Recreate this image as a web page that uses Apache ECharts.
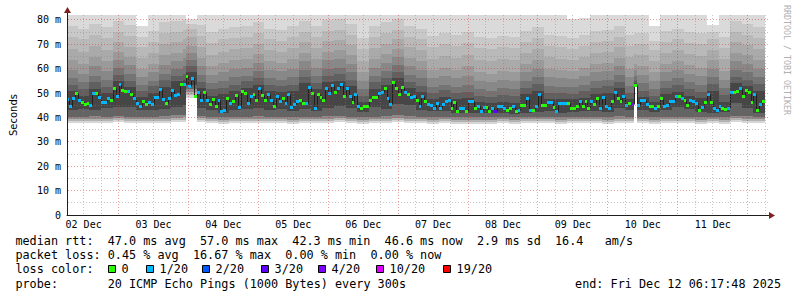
<!DOCTYPE html>
<html><head><meta charset="utf-8">
<script src="https://cdn.jsdelivr.net/npm/echarts@6/dist/echarts.min.js"></script>
<style>html,body{margin:0;padding:0;background:#fff}#c{width:797px;height:297px}</style>
</head><body><div id="c"></div>
<script>
// ---------------- data ----------------
// x unit: hours since Dec 02 00:00
const viewStart = 6.2967;   // Dec 02 06:17:48
const viewEnd = 246.2967;   // Dec 12 06:17:48
const startHour = 6;        // first 1-hour slot starts Dec 02 06:00
const stepHours = 1;
const yMax = 82.05;         // ms at top of plot

const dayLabels = ['02 Dec','03 Dec','04 Dec','05 Dec','06 Dec','07 Dec','08 Dec','09 Dec','10 Dec','11 Dec'];

// median rtt per hour (ms)
const median = [
47.3,44.4,47.6,49.9,46.9,46.2,45.5,45.9,44.8,50.0,
49.9,48.0,46.2,46.2,47.9,47.0,52.0,48.8,53.5,51.1,
50.6,50.7,49.5,47.9,45.7,44.6,46.7,45.5,46.0,45.2,
48.0,48.0,51.6,47.3,45.8,47.6,50.9,49.2,49.6,53.7,
53.6,57.0,52.8,55.8,48.5,50.4,47.1,50.4,47.0,45.5,
47.4,44.7,47.0,42.5,42.9,47.6,45.7,46.5,49.1,44.3,
50.7,
49.7,45.8,48.5,49.3,47.0,51.8,49.1,47.1,49.3,47.1,
44.6,48.6,46.5,47.6,45.7,49.3,44.1,45.5,46.5,47.0,
45.9,45.7,52.4,49.9,43.7,49.3,48.4,47.0,52.1,49.7,
53.1,50.2,51.7,53.5,48.5,51.8,48.5,46.0,49.3,44.7,
43.7,44.7,44.7,47.0,48.3,48.3,49.7,50.3,52.1,47.6,
45.2,54.4,51.8,49.3,52.5,50.4,49.3,48.3,48.8,
46.9,44.4,48.7,46.4,45.2,44.8,43.8,45.7,43.8,45.4,
46.6,46.9,43.8,46.0,42.5,43.7,43.7,42.5,46.4,46.4,
43.6,44.6,42.5,44.1,44.1,42.5,43.7,42.5,44.6,44.6,
43.6,42.9,43.8,44.4,42.3,43.0,45.0,45.0,47.9,42.9,
43.0,44.7,49.3,45.1,45.1,46.0,46.0,44.3,42.5,45.9,
45.7,45.7,45.9,43.7,43.7,44.6,46.6,44.6,46.6,43.8,
46.4,
45.2,47.9,43.8,48.2,44.7,43.6,46.6,50.4,47.6,46.6,
48.8,44.8,45.9,45.2,53.3,44.8,46.9,46.9,45.5,44.6,
44.6,43.6,44.6,47.6,44.6,45.0,46.7,46.7,48.5,48.8,
47.9,47.1,45.1,47.0,46.6,45.7,43.0,44.3,46.2,49.3,
46.2,43.6,42.8,44.7,43.8,43.3,43.8,50.2,50.4,50.7,
52.1,48.8,51.1,50.3,46.0,49.3,42.8,45.5,46.6
];

// loss colour bin per hour (index into lossLabels / lossColors)
const lossBin = [
1,1,1,0,1,0,0,0,1,1, 0,1,1,1,1,0,0,1,1,0, 0,1,0,1,1,1,0,0,1,1,
1,1,1,1,0,1,1,1,1,0, 1,0,1,1,0,1,1,0,1,0, 0,0,1,1,1,0,1,0,0,1,
0,
0,1,1,0,0,1,0,0,1,1, 0,1,1,0,1,1,1,1,1,0, 0,1,1,0,1,0,0,0,1,1,
1,0,1,1,0,1,1,0,1,1, 0,0,0,0,0,0,1,1,0,1, 1,0,0,0,0,1,0,1,1,
0,1,1,0,1,1,1,1,1,1, 1,1,0,0,0,1,1,0,1,1, 0,1,1,1,0,0,1,3,1,1,
1,0,0,1,0,1,0,0,1,1, 0,1,1,0,0,1,1,0,1,1, 1,1,0,0,0,0,1,0,0,0,
1,
0,0,1,1,1,1,0,1,0,0, 1,1,0,4,0,1,1,1,1,0, 0,1,0,0,1,1,1,1,1,0,
1,0,0,1,1,1,0,1,0,1, 0,1,1,1,0,0,1,1,0,0, 1,0,0,0,0,1,0,1,0
];

const lossLabels = ['0','1/20','2/20','3/20','4/20','10/20','19/20'];
const lossColors = ['#26ff00','#00b8ff','#0059ff','#5e00ff','#7e00ff','#dd00ff','#ff0000'];

// smoke: sorted ping ranks (of 20) per segment of hourly slots (ms)
const segLen = [4,4,4,4,4,4,4,4,4,4, 1,4,3,
4,4,4,4,4,4,4,4,4,4, 4,4,4,4,4,4,4,4,4,4, 4,4,4,4,4,4,4,4,4,4, 4,4,4,4,4,4,
3,1, 4,4,4,4,4,4,4,4,4,4,4];
const ping1 = [37.8,37.6,37.9,37.7,38.0,37.8,37.6,37.7,37.9,38.1, 38.2,48.0,38.0,37.7,37.5,37.6,37.8,37.9,37.7,37.6,
37.5,37.8,37.6,37.9,38.0,37.8,37.5,37.7,37.8,38.1, 37.9,37.6,37.5,37.6,37.4,37.5,37.4,37.5,37.6,37.4,
37.6,37.7,37.8,37.5,37.6,37.7,37.6,37.5,37.8,37.6, 52.5,37.6,37.5,37.7,37.8,37.6,37.5,37.6,37.4,38.0, 37.9,37.6];
const ping3 = [38.6,38.4,38.7,38.5,38.9,38.6,38.4,38.5,38.7,39.0, 39.1,49.2,38.8,38.5,38.3,38.4,38.6,38.7,38.5,38.4,
38.3,38.6,38.4,38.7,38.9,38.6,38.3,38.5,38.6,39.0, 38.7,38.4,38.3,38.4,38.2,38.3,38.2,38.3,38.4,38.2,
38.4,38.5,38.6,38.3,38.4,38.5,38.4,38.3,38.6,38.4, 52.7,38.4,38.3,38.5,38.6,38.4,38.3,38.4,38.2,38.9, 38.7,38.4];
const ping5 = [39.4,39.2,39.5,39.3,39.7,39.4,39.2,39.3,39.5,39.9, 40.0,50.5,39.6,39.3,39.1,39.2,39.4,39.5,39.3,39.2,
39.1,39.4,39.2,39.5,39.7,39.4,39.1,39.3,39.4,39.9, 39.5,39.2,39.1,39.2,39.0,39.1,39.0,39.1,39.2,39.0,
39.2,39.3,39.4,39.1,39.2,39.3,39.2,39.1,39.4,39.2, 52.9,39.2,39.1,39.3,39.4,39.2,39.1,39.2,39.0,39.7, 39.5,39.2];
const ping7 = [40.4,40.2,40.5,40.3,40.8,40.4,40.2,40.3,40.6,41.0, 41.2,51.8,40.7,40.3,40.0,40.2,40.4,40.6,40.3,40.2,
40.1,40.4,40.1,40.6,40.8,40.4,40.1,40.4,40.5,41.0, 40.6,40.2,40.1,40.2,40.0,40.1,40.0,40.1,40.2,40.0,
40.2,40.3,40.4,40.1,40.2,40.3,40.2,40.1,40.5,40.2, 53.0,40.2,40.1,40.3,40.4,40.2,40.1,40.2,40.0,40.8, 40.6,40.2];
const ping9 = [43.0,43.5,43.2,43.8,44.5,44.2,43.0,43.2,43.5,44.5, 45.0,53.5,44.0,43.0,41.8,43.0,43.5,44.0,43.0,43.5,
42.8,43.5,42.5,44.0,44.8,43.8,42.3,44.5,43.5,45.5, 45.0,43.0,42.5,42.5,41.8,41.8,41.8,41.7,42.0,41.6,
42.0,42.2,42.8,41.8,42.3,42.5,42.5,42.3,44.0,43.2, 53.2,43.2,42.3,43.0,44.3,43.5,42.2,42.0,42.3,46.0, 44.0,42.0];
const ping12 = [51.0,49.0,51.5,50.0,55.0,52.5,48.5,50.0,52.5,55.0, 55.5,58.5,52.0,49.0,49.5,51.0,52.0,53.5,51.0,50.5,
51.0,54.0,51.5,54.5,55.0,53.0,46.5,51.5,53.5,56.0, 52.0,50.5,47.5,48.5,47.5,48.0,46.5,46.0,46.5,46.0,
49.5,51.0,47.5,47.5,47.5,48.0,49.5,50.0,52.0,47.5, 54.0,48.5,46.5,49.5,50.5,49.0,48.0,51.0,46.5,54.0, 53.0,51.0];
const ping13 = [53.2,51.5,54.5,52.5,57.5,55.0,50.8,52.8,55.5,57.2, 58.0,61.0,54.5,51.8,52.0,53.5,54.8,56.0,53.2,53.0,
53.5,56.8,54.0,57.0,57.8,55.5,49.0,54.5,56.0,58.5, 54.5,53.0,50.0,51.2,50.0,50.5,49.0,48.5,49.2,48.8,
52.0,53.8,50.2,50.0,49.8,50.8,52.0,52.8,54.5,50.0, 55.5,51.0,49.0,52.0,53.2,51.8,50.5,53.8,49.2,56.8, 55.5,53.8];
const ping14 = [56.0,54.5,57.0,55.5,60.5,58.0,53.5,55.0,58.0,60.0, 61.0,63.5,57.5,54.0,55.0,56.5,57.0,59.0,56.0,55.5,
56.5,59.5,57.0,60.0,60.5,58.5,51.5,57.0,59.0,61.5, 57.5,56.0,52.5,53.5,52.5,53.5,51.5,51.0,52.0,51.5,
55.0,56.5,53.0,52.5,52.5,53.5,55.0,55.5,57.5,53.0, 57.0,54.0,51.5,55.0,56.0,54.5,53.5,56.5,52.0,59.5, 58.5,56.5];
const ping15 = [59.5,58.0,61.2,59.0,63.5,61.5,56.5,58.8,61.5,63.0, 64.5,66.5,61.0,57.5,58.5,60.0,60.5,62.5,59.5,59.0,
60.0,63.0,60.5,63.5,64.0,62.0,55.0,60.5,62.5,64.8, 61.0,59.5,56.0,57.0,56.0,57.2,55.0,54.5,55.5,55.0,
58.5,60.0,56.5,56.0,55.8,57.0,58.5,59.0,61.0,56.5, 59.5,57.5,55.0,58.5,59.5,58.0,57.0,60.0,55.5,63.0, 62.0,60.0];
const ping16 = [63.5,62.0,65.0,63.0,67.0,65.0,60.0,62.0,65.5,66.5, 68.0,69.5,64.5,61.0,62.5,63.5,64.0,66.0,63.0,62.5,
64.0,66.5,64.0,67.0,67.5,65.5,58.5,64.0,66.0,68.0, 64.5,63.0,59.5,60.5,59.5,61.0,58.5,58.0,59.0,58.5,
62.0,63.5,60.0,59.5,59.0,60.5,62.0,62.5,64.5,60.0, 62.0,61.0,58.5,62.0,63.0,61.5,60.5,63.5,59.0,66.5, 65.5,63.5];
const ping17 = [68.0,67.0,69.5,67.8,71.0,69.0,64.5,66.5,70.0,70.8, 72.0,73.0,69.0,65.8,67.0,68.0,68.5,70.2,67.5,67.0,
68.5,70.8,68.5,71.2,71.8,69.8,63.2,68.5,70.2,72.0, 68.8,67.5,64.2,65.2,64.5,65.8,63.5,63.0,64.0,63.5,
66.5,68.0,64.8,64.2,63.5,65.0,66.5,67.0,68.8,64.8, 66.0,65.5,63.0,66.5,67.5,66.0,65.2,67.8,63.8,70.8, 69.8,68.0];
const ping18 = [73.0,72.0,74.0,72.5,75.0,73.5,69.0,71.0,74.5,75.0, 76.0,76.5,73.5,70.5,72.0,72.5,73.0,74.5,72.0,71.5,
73.0,75.0,73.0,75.5,76.0,74.0,68.0,73.0,74.5,76.0, 73.0,72.0,69.0,70.0,69.5,70.5,68.5,68.0,69.0,68.5,
71.0,72.5,69.5,69.0,68.0,69.5,71.0,71.5,73.0,69.5, 70.0,70.0,67.5,71.0,72.0,70.5,70.0,72.0,68.5,75.0, 74.0,72.5];
const ping19 = [77.5,76.5,78.5,77.0,79.5,78.0,73.0,75.5,79.0,79.5, 80.0,78.5,78.0,75.0,76.5,77.0,77.5,79.0,76.5,76.0,
77.5,79.5,77.5,80.0,80.5,78.5,72.5,77.5,79.0,80.5, 77.5,76.5,73.5,74.5,74.0,75.0,73.0,72.5,73.5,73.0,
75.5,77.0,74.0,73.5,72.5,74.0,75.5,76.0,77.5,74.0, 74.5,74.5,71.5,75.5,76.5,75.0,74.5,75.0,73.0,79.5, 78.5,77.0];
const ping20 = [84,84,84,84,84,84,77.5,84,84,84, 84,80.5,84,84,84,84,84,84,84,84,
84,84,84,84,84,84,84,84,84,84, 84,84,84,84,84,84,84,84,84,84,
84,84,84,84,80.5,81,84,84,84,84, 84,84,77.5,84,84,84,84,78,84,84, 84,84];

// legend statistics
const rttStats = ['47.0','57.0','42.3','46.6','2.9','16.4'];
const lossStats = ['0.45','16.67','0.00','0.00'];
const probeText = '20 ICMP Echo Pings (1000 Bytes) every 300s';
const endText = 'end: Fri Dec 12 06:17:48 2025';

// ---------------- drawing ----------------
// bands between consecutive ranks (bottom to top) and their grey levels
const bandRanks = [ping1, ping3, ping5, ping7, ping9, ping12, ping13, ping14, ping15, ping16, ping17, ping18, ping19, ping20];
const bandGrey = [214, 178, 140, 100, 70, 96, 116, 136, 154, 170, 185, 200, 218];
const bandColors = bandGrey.map(v => 'rgb(' + v + ',' + v + ',' + v + ')');
const segOfStep = [];
segLen.forEach((n, s) => { for (let j = 0; j < n; j++) segOfStep.push(s); });

const majorGrid = 'rgba(200,40,40,0.45)';
const minorGrid = 'rgba(130,130,130,0.45)';
const arrowColor = '#7f1f1f';
const axisColor = '#1f1f1f';
const mono = '"DejaVu Sans Mono", monospace';

const slotData = median.map((v, i) => [startHour + i * stepHours, v, i]);

function slotX(api, cs, i) {
  const h0 = startHour + i * stepHours;
  let xa = Math.round(api.coord([h0, 0])[0]);
  let xb = Math.round(api.coord([h0 + stepHours, 0])[0]);
  xa = Math.max(xa, cs.x + 1);
  xb = Math.min(xb, cs.x + cs.width);
  return [xa, xb];
}

function renderSmoke(params, api) {
  const i = params.dataIndex, cs = params.coordSys, s = segOfStep[i];
  const [xa, xb] = slotX(api, cs, i);
  if (xb <= xa) return null;
  const h0 = startHour + i * stepHours;
  const children = [];
  for (let k = 0; k < bandColors.length; k++) {
    const lo = Math.min(bandRanks[k][s], yMax);
    const hi = Math.min(bandRanks[k + 1][s], yMax);
    if (hi <= lo) continue;
    const ya = Math.round(api.coord([h0, hi])[1]);
    const yb = Math.round(api.coord([h0, lo])[1]);
    if (yb <= ya) continue;
    children.push({ type: 'rect', shape: { x: xa, y: ya, width: xb - xa, height: yb - ya },
      style: { fill: bandColors[k] } });
  }
  return { type: 'group', children };
}

function renderMedianLine(params, api) {
  const i = params.dataIndex, cs = params.coordSys;
  const [xa, xb] = slotX(api, cs, i);
  if (xb <= xa) return null;
  const h0 = startHour + i * stepHours;
  const y = Math.floor(api.coord([h0, median[i]])[1]) + 0.5;
  const children = [{ type: 'line', shape: { x1: xa, y1: y, x2: xb, y2: y },
    style: { stroke: '#202020', lineWidth: 1 } }];
  if (i > 0) {
    const yp = Math.floor(api.coord([h0, median[i - 1]])[1]) + 0.5;
    children.push({ type: 'line', shape: { x1: xa + 0.5, y1: yp, x2: xa + 0.5, y2: y },
      style: { stroke: '#202020', lineWidth: 1 } });
  }
  return { type: 'group', children };
}

function renderMarker(params, api) {
  const i = params.dataIndex, cs = params.coordSys;
  const [xa, xb] = slotX(api, cs, i);
  if (xb <= xa) return null;
  const h0 = startHour + i * stepHours;
  const yc = api.coord([h0, median[i]])[1];
  const top = Math.round(yc - 1.5);
  return { type: 'rect', shape: { x: xa, y: top, width: xb - xa, height: 3 },
    style: { fill: lossColors[lossBin[i]] } };
}

function renderFrame(params, api) {
  const cs = params.coordSys;
  const left = cs.x, right = cs.x + cs.width, top = cs.y, bottom = cs.y + cs.height;
  const ch = [];
  for (let v = 5; v <= yMax; v += 5) {
    const y = Math.floor(api.coord([viewStart, v])[1]) + 0.5;
    ch.push({ type: 'line', shape: { x1: left + 1, y1: y, x2: right + 2, y2: y },
      style: { stroke: v % 10 === 0 ? majorGrid : minorGrid, lineWidth: 1, lineDash: [1, 2] } });
  }
  for (let h = Math.ceil(viewStart / 6) * 6; h <= viewEnd; h += 6) {
    const x = Math.floor(api.coord([h, 0])[0]) + 0.5;
    ch.push({ type: 'line', shape: { x1: x, y1: top, x2: x, y2: bottom },
      style: { stroke: h % 24 === 0 ? majorGrid : minorGrid, lineWidth: 1, lineDash: [1, 2] } });
  }
  const ax = left + 0.5, by = bottom + 0.5;
  ch.push({ type: 'line', shape: { x1: ax, y1: top, x2: ax, y2: top - 2 }, style: { stroke: axisColor, lineWidth: 1 } });
  ch.push({ type: 'polygon', shape: { points: [[ax, top - 8], [ax - 3.5, top - 2], [ax + 3.5, top - 2]] }, style: { fill: arrowColor } });
  ch.push({ type: 'line', shape: { x1: right, y1: by, x2: right + 3, y2: by }, style: { stroke: axisColor, lineWidth: 1 } });
  ch.push({ type: 'polygon', shape: { points: [[right + 9, by], [right + 3, by - 3.5], [right + 3, by + 3.5]] }, style: { fill: arrowColor } });
  return { type: 'group', children: ch };
}

// legend graphics
const legendFont = '11.8px ' + mono;
const adv = 7.1, ox = 15.4;
const rowY = [240.5, 254.9, 269.3, 283.7];
const g = [];
function txt(x, y, s, align) {
  g.push({ type: 'text', x: x, y: y, silent: true,
    style: { text: s, font: legendFont, fill: '#000', align: align || 'left', verticalAlign: 'middle' } });
}
function seg(row, idx, s) { txt(ox + idx * adv, rowY[row], s); }
seg(0, 0, 'median rtt:');
seg(0, 13, rttStats[0] + ' ms avg');
seg(0, 26, rttStats[1] + ' ms max');
seg(0, 39, rttStats[2] + ' ms min');
seg(0, 52, rttStats[3] + ' ms now');
seg(0, 65, rttStats[4] + ' ms sd');
seg(0, 76, rttStats[5]);
seg(0, 83, 'am/s');
seg(1, 0, 'packet loss:');
seg(1, 13, lossStats[0] + ' % avg');
seg(1, 25, lossStats[1] + ' % max');
seg(1, 38, lossStats[2] + ' % min');
seg(1, 50, lossStats[3] + ' % now');
seg(2, 0, 'loss color:');
const boxX = [108, 146, 202, 261, 318, 376, 443];
lossLabels.forEach((lab, k) => {
  g.push({ type: 'rect', silent: true, shape: { x: boxX[k] + 0.5, y: 265.5, width: 7, height: 7 },
    style: { fill: lossColors[k], stroke: '#000', lineWidth: 1 } });
  txt(boxX[k] + 13.6, rowY[2], lab);
});
seg(3, 0, 'probe:');
seg(3, 13, probeText);
txt(781, rowY[3], endText, 'right');
g.push({ type: 'text', x: 787, y: 5, rotation: -Math.PI / 2, silent: true,
  style: { text: 'RRDTOOL / TOBI OETIKER', font: '8.3px ' + mono, fill: '#b0b0b0', align: 'left', verticalAlign: 'middle' } });

const chart = echarts.init(document.getElementById('c'), null, { renderer: 'svg' });
chart.setOption({
  animation: false,
  backgroundColor: '#ffffff',
  grid: { left: 66, top: 15, width: 700, height: 200 },
  xAxis: {
    type: 'value', min: viewStart, max: viewEnd, z: 10,
    axisLine: { show: true, lineStyle: { color: axisColor, width: 1 } },
    axisTick: { show: false }, splitLine: { show: false },
    axisLabel: {
      customValues: dayLabels.map((_, k) => 12 + 24 * k),
      formatter: (v) => dayLabels[Math.round((v - 12) / 24)] || '',
      fontFamily: mono, fontSize: 10, color: '#000', margin: 4
    }
  },
  yAxis: {
    type: 'value', min: 0, max: yMax, interval: 10, z: 10,
    name: 'Seconds', nameLocation: 'middle', nameGap: 49,
    nameTextStyle: { fontFamily: '"DejaVu Sans", sans-serif', fontSize: 10, color: '#000' },
    axisLine: { show: true, lineStyle: { color: axisColor, width: 1 } },
    axisTick: { show: false }, splitLine: { show: false },
    axisLabel: {
      formatter: (v) => (v === 0 ? '0' : (Math.abs(v % 10) < 1e-9 ? v + ' m' : '')),
      fontFamily: mono, fontSize: 10, color: '#000', margin: 6
    }
  },
  series: [
    { type: 'custom', name: 'smoke', z: 2, silent: true, data: slotData, encode: { x: 0, y: 1 }, renderItem: renderSmoke },
    { type: 'custom', name: 'median', z: 3, silent: true, data: slotData, encode: { x: 0, y: 1 }, renderItem: renderMedianLine },
    { type: 'custom', name: 'loss', z: 4, silent: true, data: slotData, encode: { x: 0, y: 1 }, renderItem: renderMarker },
    { type: 'custom', name: 'grid', z: 6, silent: true, data: [[viewStart, 0]], encode: { x: 0, y: 1 }, renderItem: renderFrame }
  ],
  graphic: g
});
</script>
</body></html>
